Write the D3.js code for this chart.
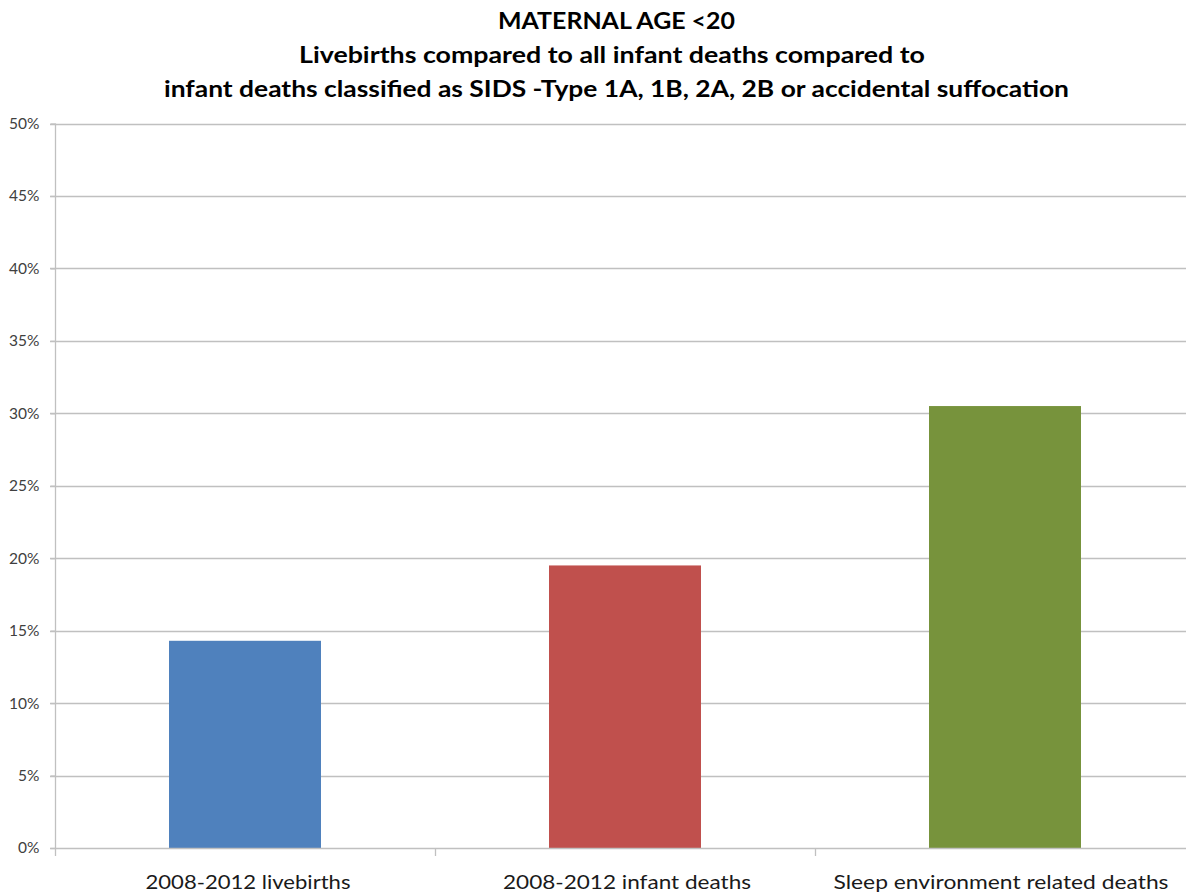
<!DOCTYPE html>
<html>
<head>
<meta charset="utf-8">
<script src="https://cdn.jsdelivr.net/npm/d3@7"></script>
<style>
  html, body { margin: 0; padding: 0; background: #ffffff; }
  svg { display: block; }
</style>
</head>
<body>
<svg id="chart" width="1186" height="892"></svg>
<script>
// Share of each group with maternal age under 20
const categories = ["2008-2012 livebirths", "2008-2012 infant deaths", "Sleep environment related deaths"];
const shares = [14.3, 19.5, 30.5];
const barColors = ["#4f81bd", "#c0504d", "#77933c"];
const yTicks = [0, 5, 10, 15, 20, 25, 30, 35, 40, 45, 50];
const titleLines = [
  "MATERNAL AGE <20",
  "Livebirths compared to all infant deaths compared to",
  "infant deaths classified as SIDS -Type 1A, 1B, 2A, 2B or accidental suffocation"
];

const svg = d3.select("#chart");
const margin = { left: 55, right: -9, top: 123.5 };
const W = 1186;
const plotBottom = 848;

const x = d3.scaleBand()
  .domain(categories)
  .range([margin.left, W - margin.right])
  .padding(0);

const y = d3.scaleLinear()
  .domain([0, 50])
  .range([plotBottom, margin.top]);

const fontFamily = "Lato, 'Open Sans', sans-serif";
const gridColor = "#c0c0c0";

// Horizontal gridlines
svg.append("g")
  .selectAll("line")
  .data(yTicks.filter(t => t > 0))
  .join("line")
  .attr("x1", margin.left - 5)
  .attr("x2", W - margin.right)
  .attr("y1", d => Math.round(y(d)) + 0.5)
  .attr("y2", d => Math.round(y(d)) + 0.5)
  .attr("stroke", gridColor)
  .attr("stroke-width", 1.3);

// Bars
const barW = x.bandwidth() * 0.4;
svg.append("g")
  .selectAll("rect")
  .data(categories)
  .join("rect")
  .attr("x", d => x(d) + (x.bandwidth() - barW) / 2)
  .attr("y", (d, i) => y(shares[i]))
  .attr("width", barW)
  .attr("height", (d, i) => plotBottom - y(shares[i]))
  .attr("fill", (d, i) => barColors[i]);

// Y axis
const yAxis = svg.append("g")
  .attr("transform", `translate(${margin.left + 0.5},0)`)
  .call(d3.axisLeft(y).tickValues(yTicks).tickFormat(d => d + "%").tickSize(5).tickPadding(11));
yAxis.select(".domain").remove();
yAxis.selectAll(".tick line").attr("stroke", gridColor).attr("stroke-width", 1.3);
yAxis.selectAll(".tick text")
  .attr("font-family", fontFamily)
  .attr("font-size", 15.5)
  .attr("fill", "#404040");
yAxis.append("line")
  .attr("x1", 0).attr("x2", 0)
  .attr("y1", margin.top).attr("y2", plotBottom + 8)
  .attr("stroke", gridColor).attr("stroke-width", 1.3);

// X axis baseline and category dividers
svg.append("line")
  .attr("x1", margin.left - 5).attr("x2", W - margin.right)
  .attr("y1", plotBottom + 0.5).attr("y2", plotBottom + 0.5)
  .attr("stroke", gridColor).attr("stroke-width", 1.3);
svg.append("g")
  .selectAll("line")
  .data(categories.slice(1))
  .join("line")
  .attr("x1", d => Math.round(x(d)) + 0.5)
  .attr("x2", d => Math.round(x(d)) + 0.5)
  .attr("y1", plotBottom)
  .attr("y2", plotBottom + 8)
  .attr("stroke", gridColor).attr("stroke-width", 1.3);

// Category labels
const labelWidths = [205, 248, 335];
const labelCenters = [248, 627, 1001];
svg.append("g")
  .selectAll("text")
  .data(categories)
  .join("text")
  .attr("x", (d, i) => labelCenters[i])
  .attr("y", 889)
  .attr("text-anchor", "middle")
  .attr("font-family", fontFamily)
  .attr("font-size", 20)
  .attr("fill", "#1a1a1a")
  .attr("textLength", (d, i) => labelWidths[i])
  .attr("lengthAdjust", "spacingAndGlyphs")
  .text(d => d);

// Title
const titleBaselines = [29, 63, 97];
const titleCenters = [616.5, 612, 616.5];
const titleWidths = [237, 626, 905];
svg.append("g")
  .selectAll("text")
  .data(titleLines)
  .join("text")
  .attr("x", (d, i) => titleCenters[i])
  .attr("y", (d, i) => titleBaselines[i])
  .attr("text-anchor", "middle")
  .attr("font-family", fontFamily)
  .attr("font-weight", "bold")
  .attr("font-size", 23.5)
  .attr("fill", "#000000")
  .attr("textLength", (d, i) => titleWidths[i])
  .attr("lengthAdjust", "spacingAndGlyphs")
  .text(d => d);
</script>
</body>
</html>
